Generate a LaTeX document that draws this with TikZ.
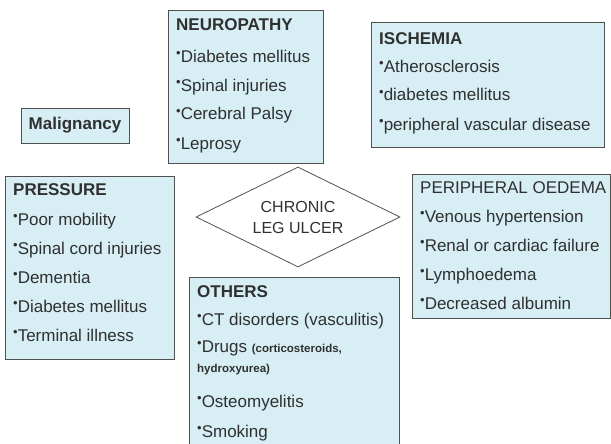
\documentclass[tikz,border=0pt]{standalone}
\usepackage{fontspec}
\setmainfont{Liberation Sans}
\usetikzlibrary{shapes.geometric,positioning,calc}
\definecolor{boxfill}{HTML}{D6EEF4}
\definecolor{boxline}{HTML}{505050}
\definecolor{ink}{HTML}{303030}
\newcommand{\dotitem}{\raisebox{0.55ex}{\fontsize{13}{13}\selectfont\textbullet}}

\begin{document}
\begin{tikzpicture}[x=1pt, y=-1pt,
    cause/.style={rectangle, draw=boxline, fill=boxfill, line width=0.8pt, anchor=north west, inner sep=0pt, outer sep=0pt},
    causetext/.style={anchor=base west, inner sep=0pt, align=left, text=ink, font=\fontsize{17}{29}\selectfont},
    ulcer/.style={diamond, draw=boxline, line width=0.8pt, aspect=2, inner sep=0pt, minimum width=204pt, minimum height=100pt, align=center, text=ink, font=\fontsize{16}{21}\selectfont}]
  \useasboundingbox (0,0) rectangle (611,444);

  % boxes
  \node[cause, minimum width=108pt, minimum height=35pt, text=ink, font=\bfseries\fontsize{17}{20}\selectfont] (malig) at (21,108) {Malignancy};
  \node[cause, minimum width=155pt, minimum height=153pt] (neuro) at (168,10) {};
  \node[cause, minimum width=233pt, minimum height=125pt] (isch) at (371,22) {};
  \node[cause, minimum width=169pt, minimum height=183pt] (press) at (5,176) {};
  \node[cause, minimum width=198pt, minimum height=144pt] (oedema) at (412,174) {};
  \node[cause, minimum width=210pt, minimum height=170pt] (others) at (189,277) {};
  \node[ulcer] (ulcer) at (298,217) {CHRONIC\\LEG ULCER};

  % lists (placed by the baseline of their last line)
  \node[causetext] (neurotext) at ($(neuro.north west)+(8,139)$)
    {\textbf{NEUROPATHY}\\[3pt]
     \dotitem Diabetes mellitus\\
     \dotitem Spinal injuries\\
     \dotitem Cerebral Palsy\\
     \dotitem Leprosy};
  \node[causetext] (ischtext) at ($(isch.north west)+(8,108)$)
    {\textbf{ISCHEMIA}\\[-1pt]
     \dotitem Atherosclerosis\\
     \dotitem diabetes mellitus\\
     \dotitem peripheral vascular disease};
  \node[causetext] (presstext) at ($(press.north west)+(8,165)$)
    {\textbf{PRESSURE}\\[1pt]
     \dotitem Poor mobility\\
     \dotitem Spinal cord injuries\\
     \dotitem Dementia\\
     \dotitem Diabetes mellitus\\
     \dotitem Terminal illness};
  \node[causetext] (oedematext) at ($(oedema.north west)+(8,135)$)
    {PERIPHERAL OEDEMA\\
     \dotitem Venous hypertension\\
     \dotitem Renal or cardiac failure\\
     \dotitem Lymphoedema\\
     \dotitem Decreased albumin};
  \node[causetext] (otherstext) at ($(others.north west)+(8,160)$)
    {\textbf{OTHERS}\\[-1pt]
     \dotitem CT disorders (vasculitis)\\[-2pt]
     \dotitem Drugs {\bfseries\fontsize{11.5}{13}\selectfont(corticosteroids,}\\[-9pt]
     {\bfseries\fontsize{11.5}{13}\selectfont hydroxyurea)}\\[6pt]
     \dotitem Osteomyelitis\\[1pt]
     \dotitem Smoking};
\end{tikzpicture}
\end{document}
